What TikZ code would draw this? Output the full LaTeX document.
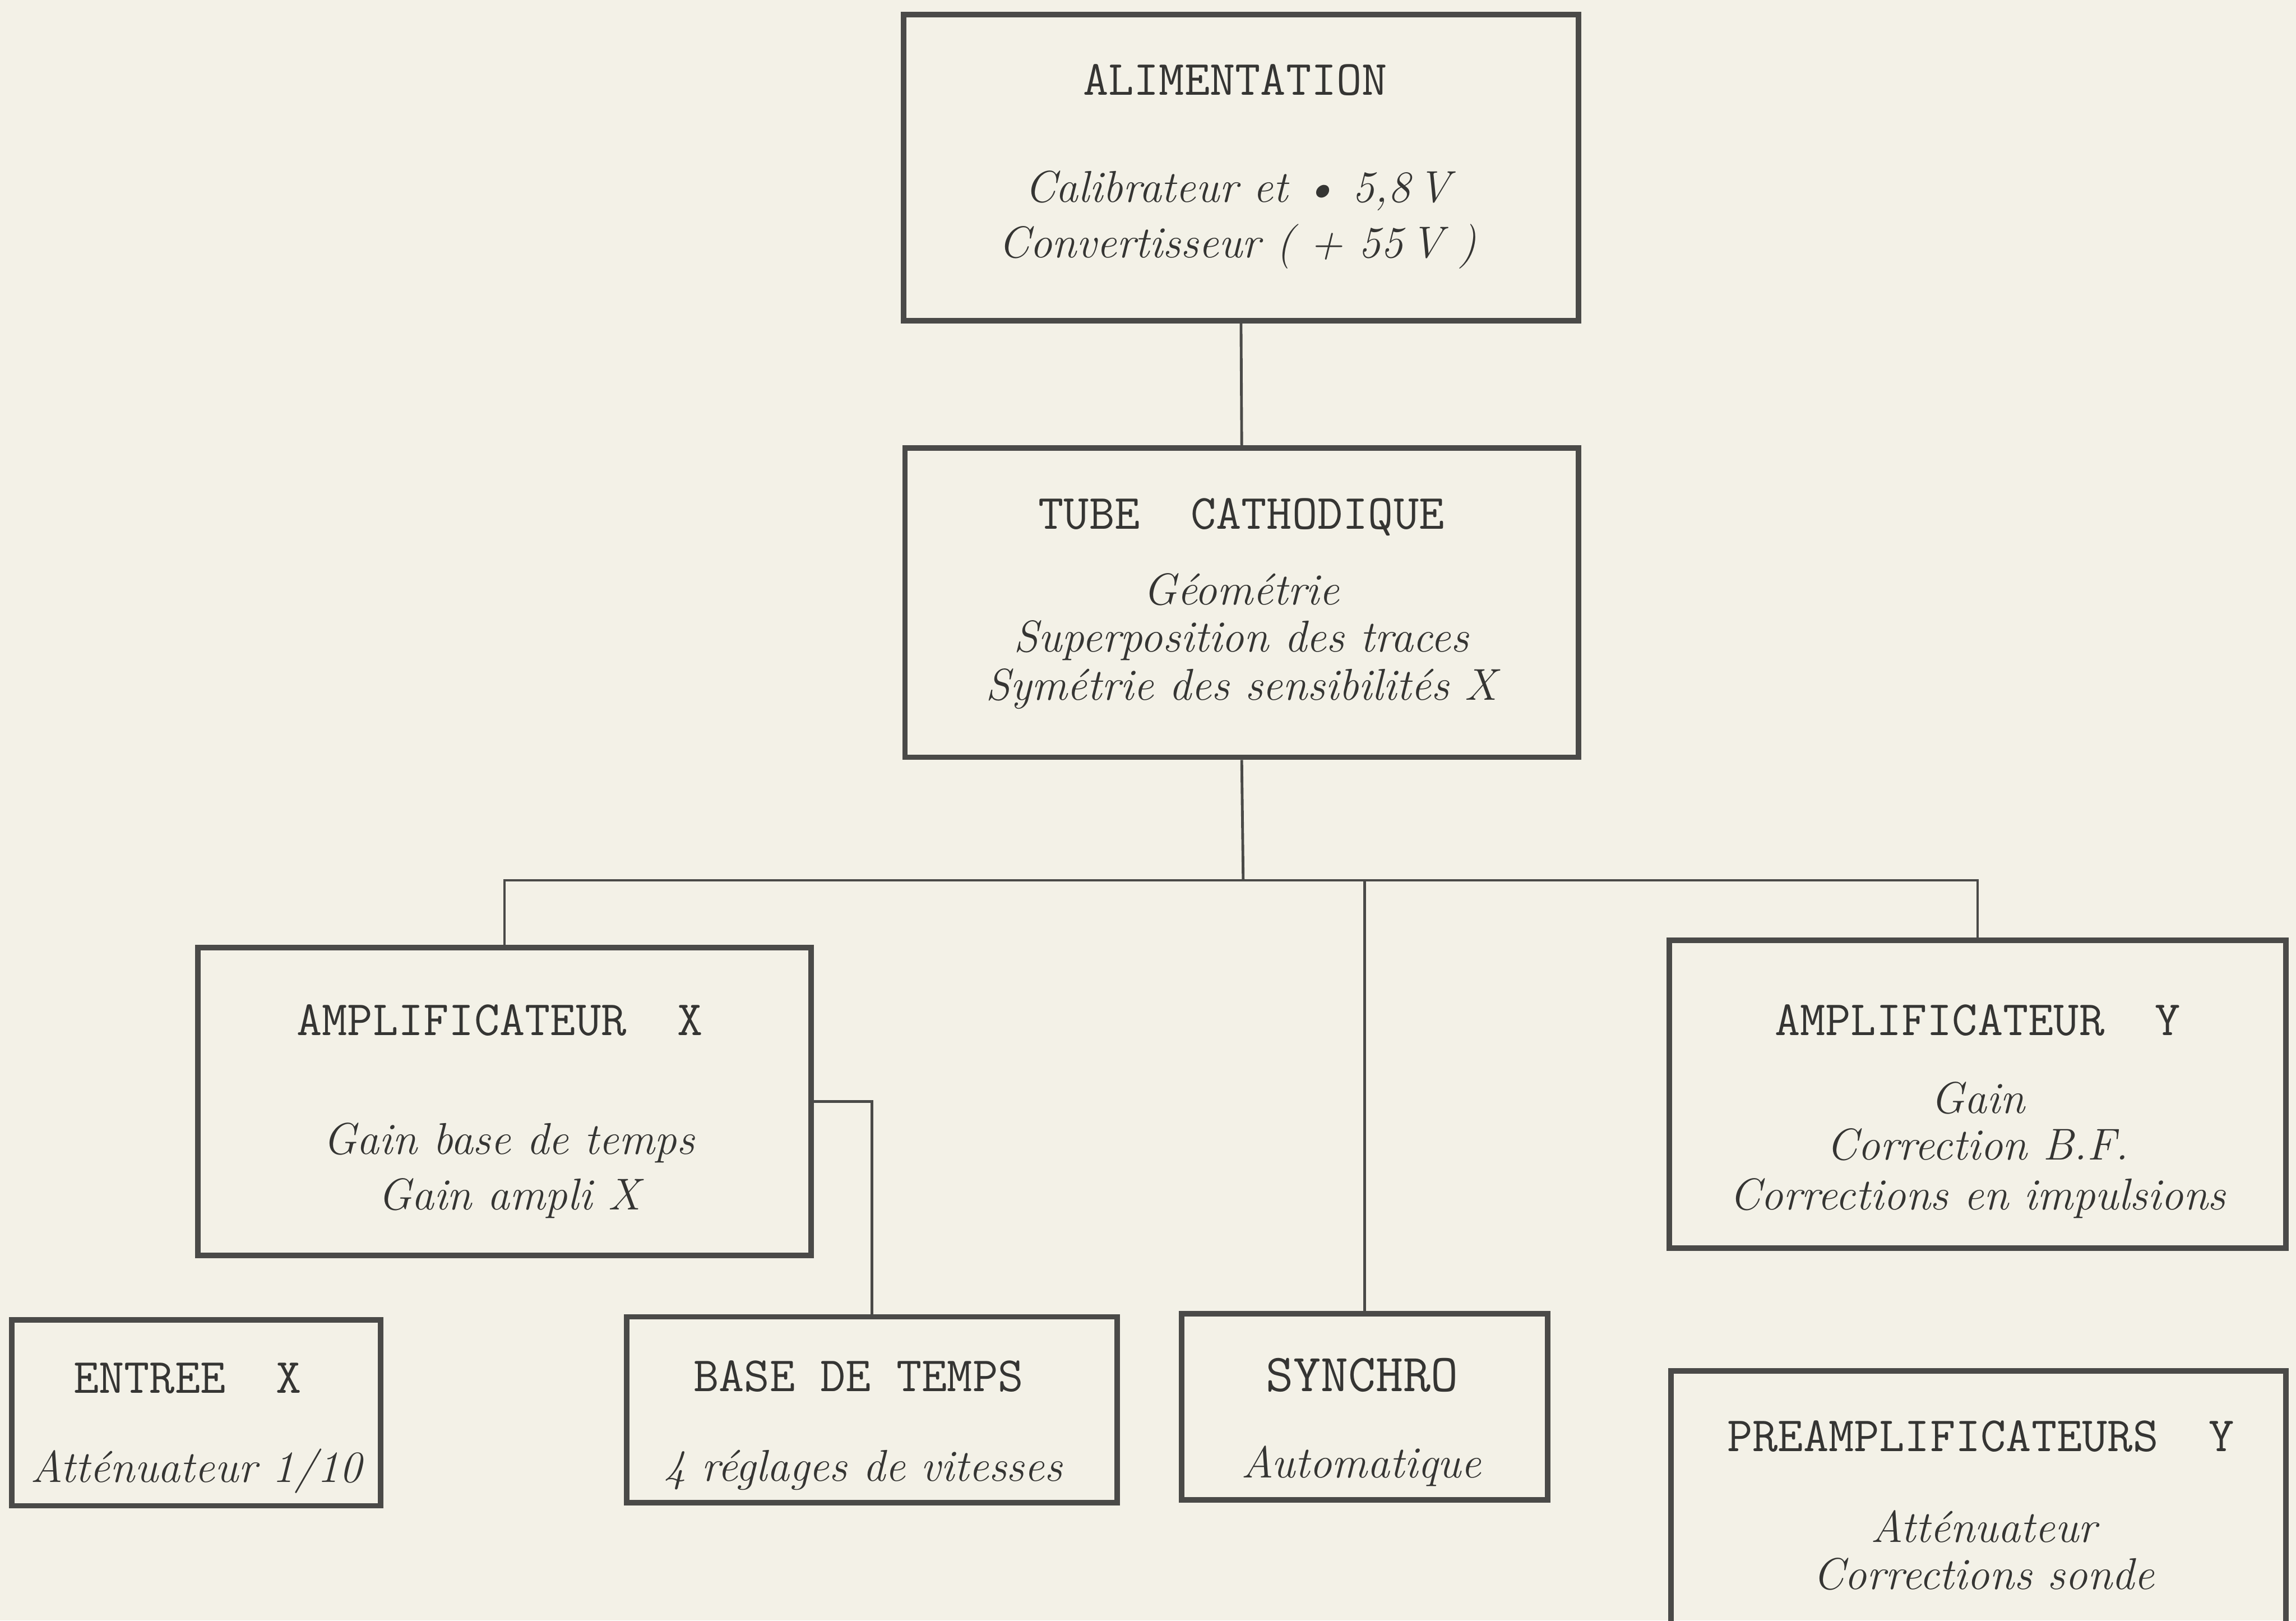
\documentclass[tikz,border=0pt]{standalone}
\usepackage{fontspec}
\usepackage{tikz}
\usetikzlibrary{positioning}
\definecolor{Papier}{HTML}{F3F1E7}
\definecolor{Encre} {HTML}{4A4A48}
\definecolor{Texte} {HTML}{353533}
\tikzset{
  bloc/.style={draw=Encre, line width=2pt, inner sep=0pt},
  titre/.style={font=\fontsize{18}{20}\selectfont\ttfamily, text=Texte, anchor=base},
  detail/.style={font=\fontsize{16.3}{19}\selectfont\itshape, text=Texte, anchor=base},
  liaison/.style={draw=Encre, line width=1pt}
}

\begin{document}
\begin{tikzpicture}
  % fond et cadre de la page
  \fill[Papier] (0,0) rectangle (29.5,-20.815);
  \useasboundingbox (0,0) rectangle (29.5,-20.815);
  % Blocs: centre, largeur, hauteur
  \node[bloc, minimum width=8.673cm, minimum height=3.932cm] (alim)    at (15.945,-2.154)  {};
  \node[bloc, minimum width=8.654cm, minimum height=3.970cm] (tube)    at (15.954,-7.742)  {};
  \node[bloc, minimum width=7.883cm, minimum height=3.951cm] (ampX)    at (6.482,-14.149)  {};
  \node[bloc, minimum width=7.921cm, minimum height=3.951cm] (ampY)    at (25.409,-14.055) {};
  \node[bloc, minimum width=4.741cm, minimum height=2.390cm] (entree)  at (2.522,-18.146)  {};
  \node[bloc, minimum width=6.303cm, minimum height=2.389cm] (base)    at (11.204,-18.109) {};
  \node[bloc, minimum width=4.703cm, minimum height=2.390cm] (synchro) at (17.535,-18.071) {};
  \node[bloc, minimum width=7.902cm, minimum height=3.700cm] (preamp)  at (25.418,-19.460) {};
  % Textes des blocs
  \node[titre]  (alimT)  at (15.87,-1.223) {ALIMENTATION};
  \node[detail] (alimA)  at (15.90,-2.596) {Calibrateur et \textbullet\ 5,8\,V};
  \node[detail] (alimB)  at (15.90,-3.311) {Convertisseur ( + 55\,V )};
  \node[titre]  (tubeT)  at (15.95,-6.792) {TUBE~~CATHODIQUE};
  \node[detail] (tubeA)  at (15.95,-7.770) {Géométrie};
  \node[detail] (tubeB)  at (15.95,-8.372) {Superposition des traces};
  \node[detail] (tubeC)  at (15.95,-8.993) {Symétrie des sensibilités X};
  \node[titre]  (ampXT)  at (6.42,-13.302) {AMPLIFICATEUR~~X};
  \node[detail] (ampXA)  at (6.54,-14.825) {Gain base de temps};
  \node[detail] (ampXB)  at (6.54,-15.540) {Gain ampli X};
  \node[titre]  (ampYT)  at (25.41,-13.302) {AMPLIFICATEUR~~Y};
  \node[detail] (ampYA)  at (25.41,-14.299) {Gain};
  \node[detail] (ampYB)  at (25.41,-14.901) {Correction B.F.};
  \node[detail] (ampYC)  at (25.41,-15.540) {Corrections en impulsions};
  \node[titre]  (entreeT) at (2.41,-17.892) {ENTREE~~X};
  \node[detail] (entreeA) at (2.52,-19.040) {Atténuateur 1/10};
  \node[titre]  (baseT)  at (11.03,-17.873) {BASE DE TEMPS};
  \node[detail] (baseA)  at (11.09,-19.021) {4 réglages de vitesses};
  \node[titre, font=\fontsize{19.5}{21}\selectfont\ttfamily] (synchroT) at (17.50,-17.873) {SYNCHRO};
  \node[detail] (synchroA) at (17.49,-18.983) {Automatique};
  \node[titre]  (preampT) at (25.45,-18.645) {PREAMPLIFICATEURS~~Y};
  \node[detail] (preampA) at (25.49,-19.811) {Atténuateur};
  \node[detail] (preampB) at (25.49,-20.413) {Corrections sonde};
  % Liaisons
  \coordinate (bus) at (15.973,-11.307);
  \draw[liaison] (alim.south) -- (tube.north);
  \draw[liaison] (tube.south) -- (bus);
  \draw[liaison] (ampX.north) -- (ampX.north |- bus) -- (ampY.north |- bus) -- (ampY.north);
  \draw[liaison] (synchro.north) -- (synchro.north |- bus);
  \draw[liaison] (ampX.east) -| (base.north);
\end{tikzpicture}
\end{document}
